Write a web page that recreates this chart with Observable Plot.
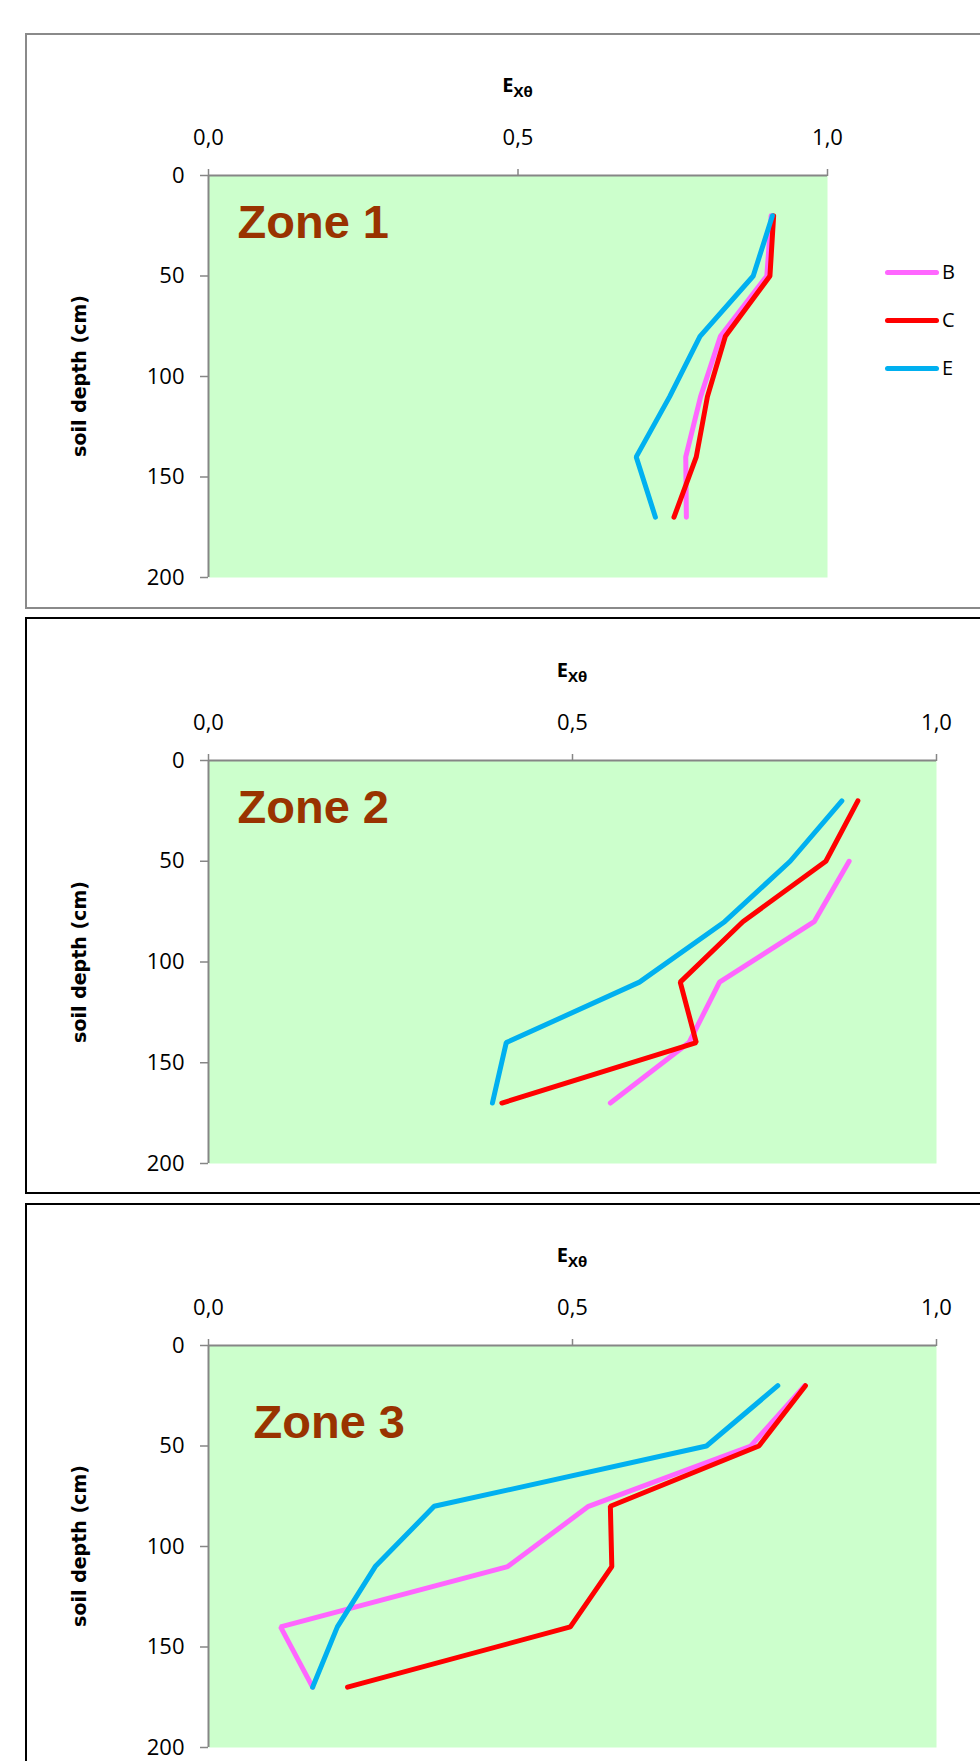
<!DOCTYPE html>
<html>
<head>
<meta charset="utf-8">
<script src="https://cdn.jsdelivr.net/npm/d3@7"></script>
<script src="https://cdn.jsdelivr.net/npm/@observablehq/plot@0.6"></script>
<style>
  html, body { margin: 0; padding: 0; background: #fff; }
  body { width: 980px; height: 1761px; position: relative; overflow: hidden; font-family: "Open Sans", sans-serif; }
  .frame { position: absolute; left: 25px; width: 1100px; box-sizing: border-box; border: 2px solid #000; }
  .panel-svg { position: absolute; left: 0; }
  .xtitle { position: absolute; font-family: "Open Sans", sans-serif; font-weight: bold; font-size: 20px; line-height: 1; transform: translate(-50%, -50%); white-space: nowrap; color: #000; }
  .xtitle sub { font-size: 15px; vertical-align: -5px; line-height: 1; }
  .ytitle { position: absolute; font-family: "DejaVu Sans", sans-serif; font-weight: bold; font-size: 19px; line-height: 1; transform: translate(-50%, -50%) rotate(-90deg); white-space: nowrap; color: #000; }
  .legend-item { position: absolute; display: flex; align-items: center; transform: translateY(-50%); font-family: "Open Sans", sans-serif; font-size: 20px; line-height: 1; color: #000; }
  .legend-item .sw { width: 54px; height: 5px; border-radius: 2.5px; margin-right: 3px; }
</style>
</head>
<body>
<script>
// ---- data ----
const depths = [20, 50, 80, 110, 140, 170];
const seriesNames = ["B", "C", "E"];
const seriesColors = ["#ff66ff", "#ff0000", "#00b0f0"];

const zone1B = [0.909, 0.902, 0.827, 0.795, 0.771, 0.772];
const zone1C = [0.913, 0.907, 0.835, 0.806, 0.788, 0.752];
const zone1E = [0.911, 0.880, 0.794, 0.745, 0.691, 0.722];

const zone2B = [null, 0.880, 0.832, 0.702, 0.660, 0.552];
const zone2C = [0.892, 0.848, 0.734, 0.648, 0.670, 0.403];
const zone2E = [0.870, 0.799, 0.709, 0.592, 0.409, 0.390];

const zone3B = [0.819, 0.745, 0.522, 0.411, 0.099, 0.143];
const zone3C = [0.820, 0.756, 0.552, 0.554, 0.497, 0.191];
const zone3E = [0.782, 0.684, 0.310, 0.229, 0.177, 0.143];

const zoneLabels = ["Zone 1", "Zone 2", "Zone 3"];
const xTicks = [0, 0.5, 1];
const xTickLabels = ["0,0", "0,5", "1,0"];
const yTicks = [0, 50, 100, 150, 200];
const xTitleMain = "E";
const xTitleSub = "Xθ";
const yTitle = "soil depth (cm)";

const zoneSeries = [
  [zone1B, zone1C, zone1E],
  [zone2B, zone2C, zone2E],
  [zone3B, zone3C, zone3E]
];

// ---- layout ----
const layouts = [
  {frameTop: 33, frameH: 576, frameColor: "#8a8a8a", svgTop: 34, svgH: 574, mt: 141, mb: 31, mr: 153, zdx: 29, zdy: 29, legend: true},
  {frameTop: 617, frameH: 577, frameColor: "#000", svgTop: 619, svgH: 574, mt: 141, mb: 30, mr: 44, zdx: 29, zdy: 29, legend: false},
  {frameTop: 1203, frameH: 700, frameColor: "#000", svgTop: 1205, svgH: 556, mt: 140, mb: 14, mr: 44, zdx: 45, zdy: 59, legend: false}
];

const axisGrey = "#868686";

layouts.forEach((L, zi) => {
  const frame = document.createElement("div");
  frame.className = "frame";
  frame.style.top = L.frameTop + "px";
  frame.style.height = L.frameH + "px";
  frame.style.borderColor = L.frameColor;
  document.body.appendChild(frame);

  const rows = [];
  seriesNames.forEach((s, si) => {
    depths.forEach((d, di) => {
      const v = zoneSeries[zi][si][di];
      rows.push({series: s, depth: d, value: v == null ? NaN : v});
    });
  });

  const ml = 208;
  const chart = Plot.plot({
    width: 980,
    height: L.svgH,
    marginLeft: ml,
    marginRight: L.mr,
    marginTop: L.mt,
    marginBottom: L.mb,
    x: {domain: [0, 1]},
    y: {domain: [0, 200], reverse: true},
    color: {domain: seriesNames, range: seriesColors},
    style: {background: "transparent", fontFamily: "'Open Sans', sans-serif", fontSize: "22px", color: "#000", overflow: "visible"},
    marks: [
      Plot.frame({fill: "#ccffcc", stroke: null}),
      Plot.axisX({anchor: "top", ticks: xTicks, tickFormat: (d) => xTickLabels[xTicks.indexOf(d)], tickSize: 7, tickPadding: 24, stroke: axisGrey, strokeWidth: 1.5, fill: "#000", label: null}),
      Plot.axisY({anchor: "left", ticks: yTicks, tickSize: 8, tickPadding: 16, stroke: axisGrey, strokeWidth: 1.5, fill: "#000", label: null}),
      Plot.ruleY([0], {stroke: axisGrey, strokeWidth: 2}),
      Plot.ruleX([0], {stroke: axisGrey, strokeWidth: 2}),
      Plot.line(rows, {x: "value", y: "depth", z: "series", stroke: "series", strokeWidth: 5, strokeLinejoin: "miter", strokeLinecap: "round"}),
      Plot.text([zoneLabels[zi]], {frameAnchor: "top-left", textAnchor: "start", lineAnchor: "top", dx: L.zdx, dy: L.zdy, fontSize: 47, fontWeight: "bold", fontFamily: "'Liberation Sans', Arial, sans-serif", fill: "#993300"})
    ]
  });
  chart.classList.add("panel-svg");
  chart.style.top = L.svgTop + "px";
  chart.style.position = "absolute";
  document.body.appendChild(chart);

  const plotLeft = ml, plotRight = 980 - L.mr;
  const plotTop = L.svgTop + L.mt, plotBottom = L.svgTop + L.svgH - L.mb;

  const xt = document.createElement("div");
  xt.className = "xtitle";
  xt.innerHTML = xTitleMain + "<sub>" + xTitleSub + "</sub>";
  xt.style.left = ((plotLeft + plotRight) / 2) + "px";
  xt.style.top = (plotTop - 88) + "px";
  document.body.appendChild(xt);

  const yt = document.createElement("div");
  yt.className = "ytitle";
  yt.textContent = yTitle;
  yt.style.left = "79px";
  yt.style.top = ((plotTop + plotBottom) / 2) + "px";
  document.body.appendChild(yt);

  if (L.legend) {
    const legTops = [272, 320, 368];
    seriesNames.forEach((s, si) => {
      const it = document.createElement("div");
      it.className = "legend-item";
      it.style.left = "885px";
      it.style.top = (L.svgTop - 34 + legTops[si]) + "px";
      const sw = document.createElement("div");
      sw.className = "sw";
      sw.style.background = seriesColors[si];
      const lab = document.createElement("span");
      lab.textContent = s;
      it.appendChild(sw);
      it.appendChild(lab);
      document.body.appendChild(it);
    });
  }
});
</script>
</body>
</html>
